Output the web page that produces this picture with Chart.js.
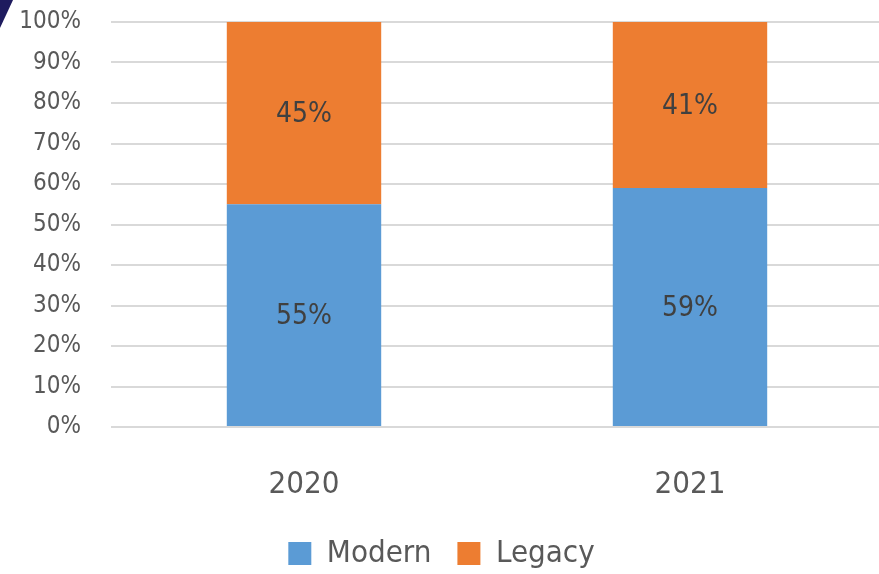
<!DOCTYPE html>
<html>
<head>
<meta charset="utf-8">
<script src="https://cdn.jsdelivr.net/npm/chart.js@4/dist/chart.umd.min.js"></script>
<style>
  html, body { margin: 0; padding: 0; background: #fff; overflow: hidden; }
  #wrap { position: relative; width: 883px; height: 579px; }
</style>
</head>
<body>
<div id="wrap"><canvas id="chart"></canvas></div>
<script>
const years = ['2020', '2021'];
const modern = [55, 59];
const legacy = [45, 41];
const yTicks = [0, 10, 20, 30, 40, 50, 60, 70, 80, 90, 100];

const FONT = '"DejaVu Sans Condensed", "Liberation Sans Narrow", sans-serif';

// writes the percentage in the middle of each stacked segment
const segmentLabels = {
  id: 'segmentLabels',
  afterDatasetsDraw(chart) {
    const ctx = chart.ctx;
    ctx.save();
    ctx.font = '28px ' + FONT;
    ctx.fillStyle = '#404040';
    ctx.textAlign = 'center';
    ctx.textBaseline = 'middle';
    chart.data.datasets.forEach((ds, i) => {
      chart.getDatasetMeta(i).data.forEach((bar, j) => {
        const mid = (bar.y + bar.base) / 2;
        ctx.fillText(ds.data[j] + '%', bar.x, mid + 2);
      });
    });
    ctx.restore();
  }
};

// little dark corner shape at the top left
const cornerMark = {
  id: 'cornerMark',
  beforeDraw(chart) {
    const ctx = chart.ctx;
    ctx.save();
    ctx.fillStyle = '#1e1b5e';
    ctx.beginPath();
    ctx.moveTo(0, 0);
    ctx.lineTo(13, 0);
    ctx.lineTo(0, 28);
    ctx.closePath();
    ctx.fill();
    ctx.restore();
  }
};

new Chart(document.getElementById('chart'), {
  type: 'bar',
  data: {
    labels: years,
    datasets: [
      {
        label: 'Modern',
        data: modern,
        backgroundColor: '#5b9bd5',
        barPercentage: 0.4,
        categoryPercentage: 1.0
      },
      {
        label: 'Legacy',
        data: legacy,
        backgroundColor: '#ed7d31',
        barPercentage: 0.4,
        categoryPercentage: 1.0
      }
    ]
  },
  options: {
    responsive: true,
    maintainAspectRatio: false,
    animation: false,
    layout: { padding: { top: 22, left: 0, right: 0, bottom: 0 } },
    scales: {
      x: {
        stacked: true,
        grid: { display: false },
        border: { display: false },
        ticks: { color: '#595959', font: { family: FONT, size: 31 }, padding: 31 },
        afterFit(scale) { scale.height = 85; }
      },
      y: {
        stacked: true,
        min: 0,
        max: 100,
        afterBuildTicks(scale) { scale.ticks = yTicks.map(v => ({ value: v })); },
        grid: { color: '#d9d9d9', lineWidth: 2, drawTicks: false },
        border: { display: false },
        ticks: {
          color: '#595959',
          font: { family: FONT, size: 24 },
          padding: 30,
          callback: v => v + '%'
        },
        afterFit(scale) {
          scale.width = 111;
          scale.paddingTop = 0;
          scale.paddingBottom = 0;
        }
      }
    },
    plugins: {
      legend: {
        position: 'bottom',
        labels: {
          color: '#595959',
          font: { family: FONT, size: 31 },
          boxWidth: 23,
          boxHeight: 23,
          padding: 26
        }
      },
      tooltip: { enabled: false }
    }
  },
  plugins: [segmentLabels, cornerMark]
});
</script>
</body>
</html>
